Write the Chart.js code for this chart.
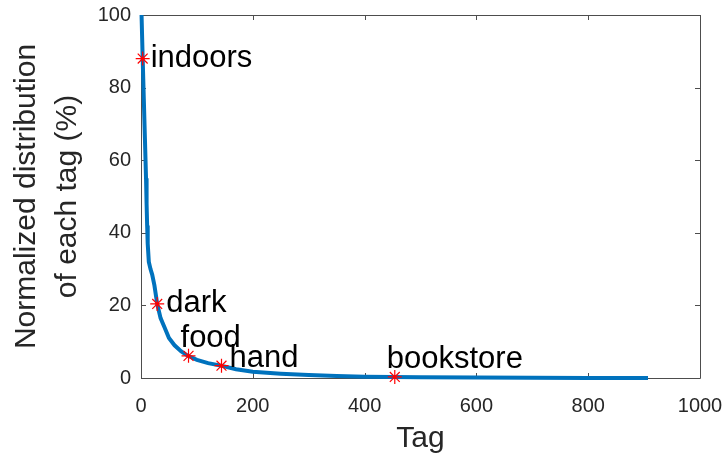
<!DOCTYPE html>
<html>
<head>
<meta charset="utf-8">
<script src="https://cdn.jsdelivr.net/npm/chart.js@4.4.1/dist/chart.umd.min.js"></script>
<style>
  html, body { margin: 0; padding: 0; background: #fff; }
  #wrap { width: 728px; height: 461px; }
</style>
</head>
<body>
<div id="wrap"><canvas id="chartTags"></canvas></div>
<script>
// tag rank (sorted) and normalized share of each tag
const tagRank  = [1, 3, 5, 7, 9, 10, 11, 12, 14, 17, 20, 24, 29, 35, 42, 50, 60, 72, 84, 100, 120, 143, 170, 200, 250, 300, 350, 400, 451, 500, 600, 700, 800, 907];
const tagShare = [100, 88, 77, 66, 55, 48, 42, 37, 32, 30, 28.5, 25.5, 20.4, 16.5, 14, 11, 9, 7.3, 6.1, 5, 4.1, 3.4, 2.4, 1.7, 1.2, 0.8, 0.55, 0.36, 0.3, 0.22, 0.12, 0.07, 0.03, 0];

// highlighted tags
const markedTags  = ["indoors", "dark", "food", "hand", "bookstore"];
const markedRank  = [3, 29, 85, 144, 454];
const markedShare = [88, 20.4, 6.1, 3.4, 0.3];

const xTicks = [0, 200, 400, 600, 800, 1000];
const yTicks = [0, 20, 40, 60, 80, 100];

// where each label sits relative to its marker (pixels)
const labelPlacement = [
    {dx: 8,  dy: 0,  base: 'middle'},
    {dx: 9,  dy: 0,  base: 'middle'},
    {dx: -8, dy: -9, base: 'alphabetic'},
    {dx: 8,  dy: 1,  base: 'alphabetic'},
    {dx: -8, dy: -9, base: 'alphabetic'}
];

const fontName = '"Liberation Sans", Arial, Helvetica, sans-serif';
const axisColor = '#4d4d4d';
const textColor = '#262626';

// box round the axes with inward ticks, like matlab
const boxPlugin = {
    id: 'matlabBox',
    beforeDatasetsDraw(chart) {
        const ctx = chart.ctx;
        const a = chart.chartArea;
        const xs = chart.scales.x;
        const ys = chart.scales.y;
        const tl = 5;
        ctx.save();
        ctx.strokeStyle = axisColor;
        ctx.lineWidth = 1;
        ctx.beginPath();
        ctx.rect(Math.round(a.left) + 0.5, Math.round(a.top) + 0.5, Math.round(a.right - a.left), Math.round(a.bottom - a.top));
        for (const v of xTicks) {
            const px = Math.round(xs.getPixelForValue(v)) + 0.5;
            ctx.moveTo(px, a.bottom); ctx.lineTo(px, a.bottom - tl);
            ctx.moveTo(px, a.top); ctx.lineTo(px, a.top + tl);
        }
        for (const v of yTicks) {
            const py = Math.round(ys.getPixelForValue(v)) + 0.5;
            ctx.moveTo(a.left, py); ctx.lineTo(a.left + tl, py);
            ctx.moveTo(a.right, py); ctx.lineTo(a.right - tl, py);
        }
        ctx.stroke();
        ctx.restore();
    },
    afterDatasetsDraw(chart) {
        const ctx = chart.ctx;
        const xs = chart.scales.x;
        const ys = chart.scales.y;
        ctx.save();
        ctx.fillStyle = '#000';
        ctx.font = '31px ' + fontName;
        ctx.textAlign = 'left';
        for (let i = 0; i < markedTags.length; i++) {
            const p = labelPlacement[i];
            ctx.textBaseline = p.base;
            ctx.fillText(markedTags[i], xs.getPixelForValue(markedRank[i]) + p.dx, ys.getPixelForValue(markedShare[i]) + p.dy);
        }
        ctx.restore();
    }
};

function noPad(s) {
    s.paddingTop = 0; s.paddingBottom = 0; s.paddingLeft = 0; s.paddingRight = 0;
}

const curve = tagRank.map((r, i) => ({x: r, y: tagShare[i]}));
const marks = markedRank.map((r, i) => ({x: r, y: markedShare[i]}));

const config = {
    type: 'scatter',
    data: {
        datasets: [{
            data: marks,
            pointStyle: 'star',
            pointRadius: 7,
            pointBorderColor: '#ff0000',
            pointBorderWidth: 1.2,
            showLine: false,
            clip: false
        }, {
            data: curve,
            showLine: true,
            borderColor: '#0072bd',
            borderWidth: 4,
            pointRadius: 0,
            tension: 0,
            clip: false
        }]
    },
    options: {
        responsive: true,
        maintainAspectRatio: false,
        animation: false,
        layout: { padding: {top: 15, right: 28, left: 0, bottom: 0} },
        scales: {
            x: {
                type: 'linear',
                min: 0,
                max: 1000,
                afterBuildTicks: (s) => { s.ticks = xTicks.map(v => ({value: v})); },
                afterFit: (s) => { s.height = 83; noPad(s); },
                grid: { display: false, drawTicks: false },
                border: { display: false },
                ticks: {
                    color: textColor,
                    font: { family: fontName, size: 20 },
                    padding: 16,
                    maxRotation: 0,
                    callback: (v) => String(v)
                },
                title: {
                    display: true,
                    text: 'Tag',
                    color: textColor,
                    font: { family: fontName, size: 30 },
                    padding: { top: 0, bottom: 4 }
                }
            },
            y: {
                type: 'linear',
                min: 0,
                max: 100,
                afterBuildTicks: (s) => { s.ticks = yTicks.map(v => ({value: v})); },
                afterFit: (s) => { s.width = 141; noPad(s); },
                grid: { display: false, drawTicks: false },
                border: { display: false },
                ticks: {
                    color: textColor,
                    font: { family: fontName, size: 20 },
                    padding: 10,
                    callback: (v) => String(v)
                },
                title: {
                    display: true,
                    text: ['Normalized distribution', 'of each tag (%)'],
                    color: textColor,
                    font: { family: fontName, size: 30, lineHeight: 1.37 },
                    padding: { top: 6 }
                }
            }
        },
        plugins: {
            legend: { display: false },
            tooltip: { enabled: false }
        }
    },
    plugins: [boxPlugin]
};

const myChart = new Chart(document.getElementById('chartTags'), config);
</script>
</body>
</html>
